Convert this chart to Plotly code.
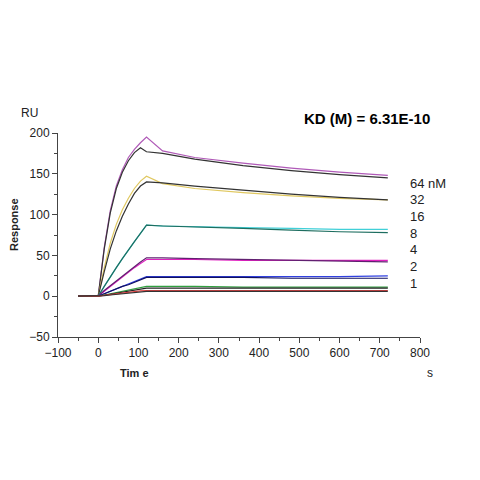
import plotly.graph_objects as go

t = [-50, 0, 15, 30, 45, 60, 75, 90, 105, 120, 160, 240, 360, 480, 600, 720]
obs64 = [0, 0, 60, 105, 135, 155, 170, 180, 188, 195, 178, 170, 163, 157, 152, 148]
fit64 = [0, 0, 58, 102, 132, 152, 166, 176, 182, 177, 175, 168, 160, 154, 149, 145]
obs32 = [0, 0, 35, 65, 88, 106, 120, 132, 141, 147, 138, 132, 127, 123, 120, 118]
fit32 = [0, 0, 30, 58, 80, 98, 113, 126, 135, 140, 139, 135, 130, 125, 121, 118]
obs16 = [0, 0, 12, 24, 35, 46, 57, 67, 77, 87, 86, 85, 84, 83, 82, 82]
fit16 = [0, 0, 12, 24, 35, 46, 57, 67, 77, 87, 86, 85, 83, 81, 79, 78]
obs8 = [0, 0, 6, 12, 18, 24, 29, 35, 40, 45, 45, 45, 44, 44, 44, 44]
fit8 = [0, 0, 7, 13, 19, 25, 31, 36, 42, 47, 47, 46, 45, 44, 43, 42]
obs4 = [0, 0, 3, 6, 9, 12, 15, 18, 21, 24, 24, 24, 24, 24, 24, 25]
fit4 = [0, 0, 3, 6, 9, 12, 14, 17, 20, 23, 23, 23, 23, 22, 22, 22]
obs2 = [0, 0, 1.5, 3, 4.5, 6, 7.5, 9, 10.5, 12, 12, 12, 11, 11, 11, 11]
fit2 = [0, 0, 1.2, 2.5, 3.7, 5, 6.2, 7.5, 8.7, 10, 10, 10, 10, 10, 10, 10]
obs1 = [0, 0, 1, 2, 3, 4, 5, 6, 6.5, 7, 7, 7, 7, 7, 7, 7]
fit1 = [0, 0, 0.8, 1.5, 2.3, 3, 3.8, 4.5, 5.3, 6, 6, 6, 6, 6, 6, 6]

series = [
    (obs64, "#b05ab8"), (fit64, "#333333"),
    (obs32, "#e0c860"), (fit32, "#333333"),
    (obs16, "#40d0d8"), (fit16, "#1e6e60"),
    (obs8, "#e020c0"), (fit8, "#602070"),
    (obs4, "#3040e0"), (fit4, "#101060"),
    (obs2, "#30a040"), (fit2, "#222222"),
    (obs1, "#e04040"), (fit1, "#333333"),
]
labels = ["64 nM", "32", "16", "8", "4", "2", "1"]

L, R, T, B = 59, 421, 133, 337

fig = go.Figure()
for y, c in series:
    fig.add_trace(go.Scatter(x=t, y=y, mode="lines", line=dict(color=c, width=1.2),
                             showlegend=False, hoverinfo="skip"))

ann = [dict(text="<b>KD (M) = 6.31E-10</b>", x=368, y=118, font=dict(size=15, color="black")),
       dict(text="RU", x=30, y=113, font=dict(size=12)),
       dict(text="s", x=431, y=373, font=dict(size=12)),
       dict(text="<b>Tim e</b>", x=135, y=373, font=dict(size=11)),
       dict(text="<b>Response</b>", x=15, y=225, font=dict(size=11), textangle=-90)]
for i, l in enumerate(labels):
    ann.append(dict(text=l, x=409, y=183 + i * 16.7, font=dict(size=13), xanchor="left"))
for a in ann:
    a.update(xref="paper", yref="paper", showarrow=False, yanchor="middle")
    a.setdefault("xanchor", "center")
    a["x"] = (a["x"] - L) / (R - L)
    a["y"] = (B - a["y"]) / (B - T)
    a["font"].setdefault("color", "#222222")
    a["font"]["family"] = "Liberation Sans, Arial"

fig.update_layout(
    width=480, height=480, margin=dict(l=L - 9, r=480 - R + 9, t=T - 8, b=480 - B + 8),
    paper_bgcolor="white", plot_bgcolor="white", annotations=ann,
    font=dict(family="Liberation Sans, Arial", size=12, color="#222222"),
    xaxis=dict(range=[-100, 800], dtick=100, showgrid=False, zeroline=False, showline=True,
               linecolor="#444", ticks="outside", ticklen=5, tickcolor="#444",
               minor=dict(dtick=50, ticks="outside", ticklen=3, tickcolor="#444")),
    yaxis=dict(range=[-50, 200], dtick=50, showgrid=False, zeroline=False, showline=True,
               linecolor="#444", ticks="outside", ticklen=5, tickcolor="#444",
               minor=dict(dtick=25, ticks="outside", ticklen=3, tickcolor="#444")),
)
fig.write_html("out.html")
